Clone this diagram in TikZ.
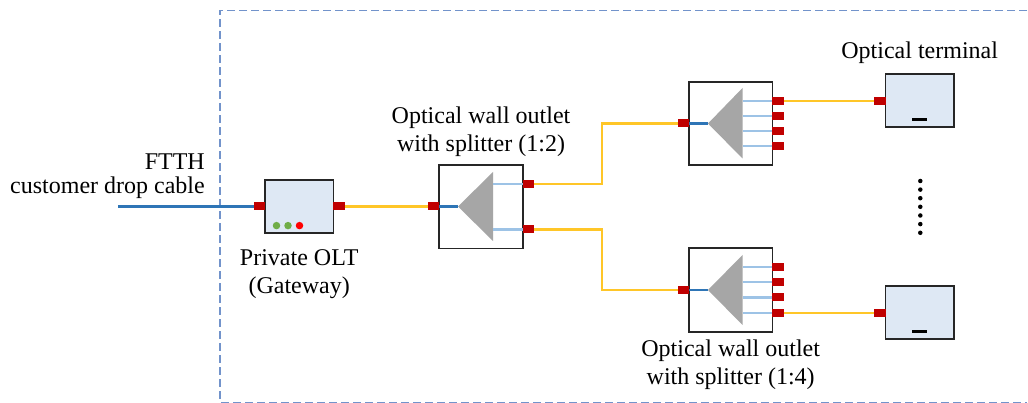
\documentclass[tikz,border=0pt]{standalone}
\usepackage{fontspec}
\setmainfont{Liberation Serif}
\usetikzlibrary{positioning}
\definecolor{portred}{RGB}{192,0,0}
\definecolor{boxblue}{RGB}{222,232,244}
\definecolor{fibreblue}{RGB}{46,117,182}
\definecolor{thinblue}{RGB}{157,195,230}
\definecolor{fibreyellow}{RGB}{255,198,40}
\definecolor{framedash}{RGB}{114,147,203}
\definecolor{splitgray}{RGB}{166,166,166}
\definecolor{ledgreen}{RGB}{112,173,71}
\tikzset{
    unit/.style={draw=black!85, line width=1.7pt, minimum width=#1, inner sep=0pt},
    outlet/.style={unit=83.5pt, minimum height=83.5pt, fill=white},
    device/.style={unit=68.5pt, minimum height=53pt, fill=boxblue},
    port/.style={fill=portred, minimum width=11.5pt, minimum height=8pt, inner sep=0pt},
    yellowline/.style={draw=fibreyellow, line width=2.1pt},
    blueline/.style={draw=fibreblue, line width=2.2pt},
    thinline/.style={draw=thinblue, line width=2.1pt},
    wedge/.style={fill=splitgray},
    led/.style={circle, minimum size=7.5pt, inner sep=0pt},
    dot/.style={circle, fill=black, minimum size=4.5pt, inner sep=0pt},
    slot/.style={fill=black, minimum width=15pt, minimum height=3.2pt, inner sep=0pt},
    caption/.style={font=\fontsize{24}{28}\selectfont, align=center, inner sep=0pt}
}
\begin{document}
\begin{tikzpicture}[x=1pt, y=-1pt]
    \useasboundingbox (0,0) rectangle (1028,403);
    % frame
    \draw[framedash, line width=1.5pt, dash pattern=on 8pt off 4pt] (1027,10.5) -- (220,10.5) -- (220,402.5) -- (1027,402.5);
    % boxes
    \node (olt) [device] at (299.2,206.5) {};
    \node (out2) [outlet] at (481,206.7) {};
    \node (out4a) [outlet] at (730.7,123.5) {};
    \node (out4b) [outlet] at (730.7,290) {};
    \node (term1) [device] at (919.7,100.5) {};
    \node (term2) [device] at (919.7,312.5) {};
    % ports
    \coordinate (cableend) at (118,206.5);
    \node (oltin) [port] at (259.5,206.5) {};
    \node (oltout) [port] at (339,206.5) {};
    \node (out2in) [port] at (433.5,206.5) {};
    \node (out2p1) [port] at (528.5,184) {};
    \node (out2p2) [port] at (528.5,229.5) {};
    \node (out4ain) [port] at (683.5,123.5) {};
    \node (out4ap1) [port] at (778,100.7) {};
    \node (out4ap2) [port] at (778,116) {};
    \node (out4ap3) [port] at (778,131) {};
    \node (out4ap4) [port] at (778,146) {};
    \node (out4bin) [port] at (683.5,290) {};
    \node (out4bp1) [port] at (778,267) {};
    \node (out4bp2) [port] at (778,282.3) {};
    \node (out4bp3) [port] at (778,297.5) {};
    \node (out4bp4) [port] at (778,312.7) {};
    \node (term1in) [port] at (880,100.7) {};
    \node (term2in) [port] at (880,312.7) {};
    % splitters
    \coordinate (tip2) at (458,206.5);
    \coordinate (tip4a) at (708,123.5);
    \coordinate (tip4b) at (708,290);
    \fill[wedge] (tip2) -- (493,172) -- (493,241) -- cycle;
    \fill[wedge] (tip4a) -- (742.5,88) -- (742.5,158.5) -- cycle;
    \fill[wedge] (tip4b) -- (742.5,255) -- (742.5,325) -- cycle;
    \path
    (out2in) edge [blueline] (tip2)
    (out4ain) edge [blueline] (tip4a)
    (out4bin) edge [blueline] (tip4b);
    \coordinate (arm1) at (493,184);
    \coordinate (arm2) at (493,229.5);
    \draw[thinline] (arm1) -- (out2p1);
    \draw[thinline] (arm2) -- (out2p2);
    \foreach \y/\p in {100.7/1,116/2,131/3,146/4} {
        \coordinate (arma\p) at (742.5,\y);
        \draw[thinline] (arma\p) -- (out4ap\p);
    }
    \foreach \y/\p in {267/1,282.3/2,297.5/3,312.7/4} {
        \coordinate (armb\p) at (742.5,\y);
        \draw[thinline] (armb\p) -- (out4bp\p);
    }
    % fibres
    \coordinate (bendup) at (602,150);
    \coordinate (benddown) at (602,260);
    \path
    (cableend) edge [blueline] (oltin)
    (oltout) edge [yellowline] (out2in)
    (out4ap1) edge [yellowline] (term1in)
    (out4bp4) edge [yellowline] (term2in);
    \draw[yellowline] (out2p1) -| (bendup) |- (out4ain);
    \draw[yellowline] (out2p2) -| (benddown) |- (out4bin);
    % details
    \node (led1) [led, fill=ledgreen] at (276.5,225.6) {};
    \node (led2) [led, fill=ledgreen, right=3.6pt of led1] {};
    \node (led3) [led, fill=red, right=3.6pt of led2] {};
    \node (slot1) [slot] at (919.7,119.7) {};
    \node (slot2) [slot] at (919.7,331.6) {};
    \foreach \i/\y in {1/181,2/189.6,3/198.2,4/206.8,5/215.5,6/224.1,7/232.8} {
        \node (dot\i) [dot] at (920.3,\y) {};
    }
    % labels
    \node (cablelabel) [caption, font=\fontsize{24}{24}\selectfont, align=right, anchor=south east] at (205,198.5) {FTTH\\customer drop cable};
    \node (oltlabel) [caption, below=16pt of olt] {Private OLT\\(Gateway)};
    \node (out2label) [caption, above=7pt of out2] {Optical wall outlet\\with splitter (1:2)};
    \node (out4label) [caption, below=7pt of out4b] {Optical wall outlet\\with splitter (1:4)};
    \node (termlabel) [caption, above=9pt of term1] {Optical terminal};
\end{tikzpicture}
\end{document}
